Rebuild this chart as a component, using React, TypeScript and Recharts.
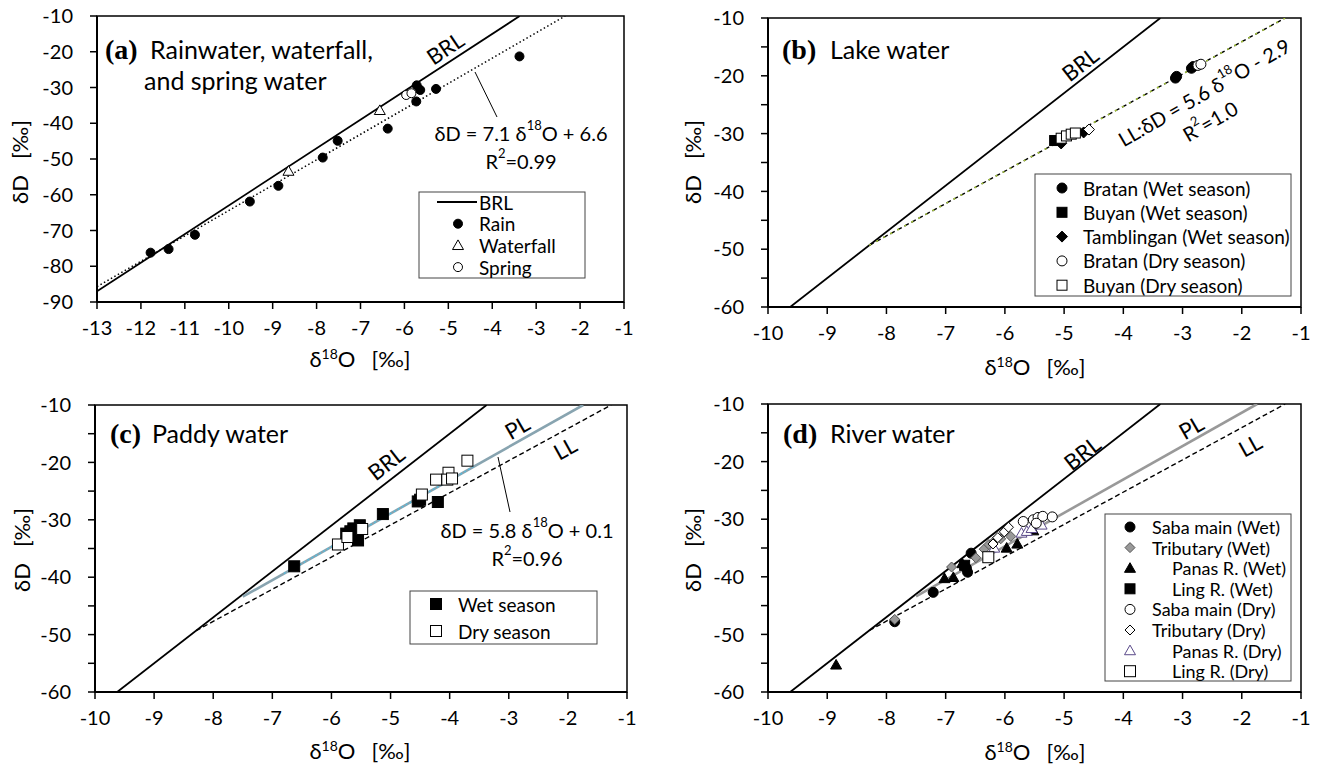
import { ReferenceArea, Scatter, ScatterChart, XAxis, YAxis } from 'recharts';

type Pair = [number, number];
type Mark = 'circle' | 'square' | 'diamond' | 'triangle';

const SANS = 'Lato, "Noto Sans", sans-serif';
const SERIF = '"Liberation Serif", "DejaVu Serif", serif';

// axis ticks
const X_TICKS_A = [-13, -12, -11, -10, -9, -8, -7, -6, -5, -4, -3, -2, -1];
const Y_TICKS_A = [-90, -80, -70, -60, -50, -40, -30, -20, -10];
const X_TICKS = [-10, -9, -8, -7, -6, -5, -4, -3, -2, -1];
const Y_TICKS = [-60, -55, -50, -45, -40, -35, -30, -25, -20, -15, -10];

// (a) rain / waterfall / spring  [d18O, dD]
const RAIN: Pair[] = [
  [-11.78, -76.2], [-11.37, -75.2], [-10.77, -71.2], [-9.52, -61.9], [-8.87, -57.5],
  [-7.86, -49.6], [-7.52, -44.9], [-6.38, -41.5], [-5.72, -29.4], [-5.64, -30.7],
  [-5.73, -33.9], [-5.28, -30.4], [-3.38, -21.3],
];
const WATERFALL: Pair[] = [[-8.64, -53.4], [-6.56, -36.4]];
const SPRING: Pair[] = [[-5.96, -32.1], [-5.84, -31.6]];

// (b) lakes
const BRATAN_WET: Pair[] = [[-3.12, -20.4], [-3.1, -20.1], [-2.85, -18.7], [-2.82, -18.4]];
const BUYAN_WET: Pair[] = [[-5.16, -31.2]];
const TAMB_WET: Pair[] = [[-5.05, -31.7], [-4.67, -29.8]];
const BRATAN_DRY: Pair[] = [[-2.74, -18.2], [-2.69, -18.0]];
const BUYAN_DRY: Pair[] = [[-5.05, -30.8], [-4.96, -30.4], [-4.88, -30.1], [-4.81, -29.9]];
const TAMB_DRY: Pair[] = [[-4.58, -29.3]];

// (c) paddy
const PADDY_WET: Pair[] = [
  [-6.63, -38.1], [-5.75, -32.4], [-5.68, -32.0], [-5.63, -31.5], [-5.52, -30.95],
  [-5.55, -33.6], [-5.13, -29.0], [-4.54, -26.8], [-4.5, -26.5], [-4.2, -26.9],
];
const PADDY_DRY: Pair[] = [
  [-5.89, -34.3], [-5.73, -33.0], [-5.48, -31.6], [-4.47, -25.6], [-4.23, -23.0],
  [-4.02, -21.8], [-4.04, -23.0], [-3.96, -22.8], [-3.7, -19.7],
];

// (d) rivers
const SABA_WET: Pair[] = [[-7.21, -42.7], [-7.86, -47.8], [-6.57, -35.9], [-6.65, -38.5], [-6.63, -39.2]];
const TRIB_WET: Pair[] = [
  [-7.86, -47.4], [-6.9, -38.3], [-6.49, -36.7], [-6.35, -35.2], [-6.27, -34.4],
  [-6.18, -33.8], [-6.07, -33.4], [-5.9, -33.0],
];
const PANAS_WET: Pair[] = [
  [-8.85, -55.3], [-7.02, -40.3], [-6.87, -40.1], [-6.72, -37.7], [-5.97, -35.0],
  [-5.79, -34.3], [-5.52, -32.0],
];
const LING_WET: Pair[] = [[-6.68, -38.0]];
const SABA_DRY: Pair[] = [[-5.69, -30.4], [-5.52, -30.1], [-5.44, -29.7], [-5.36, -29.5], [-5.2, -29.6], [-5.47, -30.7]];
const TRIB_DRY: Pair[] = [[-6.2, -34.3], [-6.12, -33.2], [-6.01, -32.2], [-5.94, -31.4]];
const PANAS_DRY: Pair[] = [[-6.18, -35.0], [-5.72, -32.4], [-5.63, -32.1], [-5.55, -31.6], [-5.38, -31.0]];
const LING_DRY: Pair[] = [[-6.28, -36.6]];

// fitted lines: dD = slope * d18O + intercept
const BRL = { slope: 8, intercept: 17 };
const FIT_A = { slope: 7.1, intercept: 6.6 };
const LL = { slope: 5.6, intercept: -2.9 };
const PL = { slope: 5.8, intercept: 0.1 };

type Fit = { slope: number; intercept: number };

// segment of a fit line from xFrom up to where it leaves the top of the plot (dD = -10)
function seg(l: Fit, xFrom: number, xTo?: number) {
  const end = xTo ?? (-10 - l.intercept) / l.slope;
  return [
    { x: xFrom, y: l.slope * xFrom + l.intercept },
    { x: end, y: l.slope * end + l.intercept },
  ];
}

const toPts = (a: Pair[]) => a.map(([x, y]) => ({ x, y }));

function Marker({ cx, cy, mark, fill, stroke, size }: { cx: number; cy: number; mark: Mark; fill: string; stroke: string; size: number }) {
  const r = size / 2;
  if (mark === 'circle') return <circle cx={cx} cy={cy} r={r} fill={fill} stroke={stroke} strokeWidth={1} />;
  if (mark === 'square') return <rect x={cx - r} y={cy - r} width={size} height={size} fill={fill} stroke={stroke} strokeWidth={1} />;
  if (mark === 'diamond')
    return <polygon points={`${cx},${cy - r} ${cx + r},${cy} ${cx},${cy + r} ${cx - r},${cy}`} fill={fill} stroke={stroke} strokeWidth={1} />;
  return <polygon points={`${cx},${cy - r} ${cx + r},${cy + r * 0.75} ${cx - r},${cy + r * 0.75}`} fill={fill} stroke={stroke} strokeWidth={1} />;
}

interface SeriesDef { data: Pair[]; mark: Mark; fill: string; stroke: string; size: number }
interface LineDef { pts: { x: number; y: number }[]; stroke: string; width: number; dash?: string }

interface PanelProps {
  left: number;
  top: number;
  width: number;
  margin: { top: number; right: number; bottom: number; left: number };
  xDomain: [number, number];
  yDomain: [number, number];
  xTicks: number[];
  yTicks: number[];
  lines: LineDef[];
  series: SeriesDef[];
}

const axisLine = { stroke: '#000', strokeWidth: 2 };
const tickLine = { stroke: '#000', strokeWidth: 1.5 };
const tickStyle = { fill: '#000', fontSize: 20, fontFamily: SANS };

function Panel({ left, top, width, margin, xDomain, yDomain, xTicks, yTicks, lines, series }: PanelProps) {
  return (
    <div style={{ position: 'absolute', left, top }}>
      <ScatterChart width={width} height={385} margin={margin}>
        <XAxis
          type="number"
          dataKey="x"
          domain={xDomain}
          ticks={xTicks}
          interval={0}
          allowDataOverflow
          height={30}
          tickSize={7}
          tickMargin={12}
          axisLine={axisLine}
          tickLine={tickLine}
          tick={tickStyle}
        />
        <YAxis
          type="number"
          dataKey="y"
          domain={yDomain}
          ticks={yTicks}
          interval={0}
          allowDataOverflow
          width={60}
          tickSize={7}
          tickMargin={17}
          axisLine={axisLine}
          tickLine={tickLine}
          tick={tickStyle}
          tickFormatter={(v: number) => (v % 10 === 0 ? String(v) : '')}
        />
        <ReferenceArea
          x1={xDomain[0]}
          x2={xDomain[1]}
          y1={yDomain[0]}
          y2={yDomain[1]}
          fill="none"
          fillOpacity={0}
          stroke="#000"
          strokeWidth={1.5}
          ifOverflow="visible"
        />
        {lines.map((l, i) => (
          <Scatter
            key={'l' + i}
            data={l.pts}
            line={{ stroke: l.stroke, strokeWidth: l.width, strokeDasharray: l.dash }}
            shape={() => <g />}
            legendType="none"
            isAnimationActive={false}
          />
        ))}
        {series.map((s, i) => (
          <Scatter
            key={'s' + i}
            data={toPts(s.data)}
            shape={(p: any) => <Marker cx={p.cx} cy={p.cy} mark={s.mark} fill={s.fill} stroke={s.stroke} size={s.size} />}
            isAnimationActive={false}
          />
        ))}
      </ScatterChart>
    </div>
  );
}

function AxisTitles({ cx, by, lx, ly }: { cx: number; by: number; lx: number; ly: number }) {
  return (
    <>
      <text x={cx} y={by} textAnchor="middle" fontSize={22}>
        δ<tspan dy={-8} fontSize={14}>18</tspan>
        <tspan dy={8}>O</tspan>
        <tspan dx={16}>[‰]</tspan>
      </text>
      <text x={lx} y={ly} textAnchor="middle" dominantBaseline="central" fontSize={22} transform={`rotate(-90 ${lx} ${ly})`}>
        δD<tspan dx={16}>[‰]</tspan>
      </text>
    </>
  );
}

function Rot({ x, y, a, size = 22, children }: { x: number; y: number; a: number; size?: number; children: any }) {
  return (
    <text x={x} y={y} textAnchor="middle" dominantBaseline="central" fontSize={size} transform={`rotate(${a} ${x} ${y})`}>
      {children}
    </text>
  );
}

type LegendRow = { label: string; mark?: SeriesDef; line?: boolean; tx?: number };

function LegendBox({ x, y, w, h, mx, tx, y0, step, rows, size = 19 }: { x: number; y: number; w: number; h: number; mx: number; tx: number; y0: number; step: number; rows: LegendRow[]; size?: number }) {
  return (
    <g>
      <rect x={x} y={y} width={w} height={h} fill="#fff" stroke="#444" strokeWidth={1} />
      {rows.map((r, i) => {
        const cy = y0 + i * step;
        return (
          <g key={i}>
            {r.line && <line x1={mx - 21} x2={mx + 19} y1={cy} y2={cy} stroke="#000" strokeWidth={1.8} />}
            {r.mark && <Marker cx={mx} cy={cy} mark={r.mark.mark} fill={r.mark.fill} stroke={r.mark.stroke} size={r.mark.size} />}
            <text x={r.tx ?? tx} y={cy} dominantBaseline="central" fontSize={size}>{r.label}</text>
          </g>
        );
      })}
    </g>
  );
}

// series styling
const S_RAIN: SeriesDef = { data: RAIN, mark: 'circle', fill: '#000', stroke: '#000', size: 9 };
const S_WATERFALL: SeriesDef = { data: WATERFALL, mark: 'triangle', fill: '#fff', stroke: '#000', size: 11 };
const S_SPRING: SeriesDef = { data: SPRING, mark: 'circle', fill: '#fff', stroke: '#000', size: 9 };

const S_BRATAN_WET: SeriesDef = { data: BRATAN_WET, mark: 'circle', fill: '#000', stroke: '#000', size: 10 };
const S_BUYAN_WET: SeriesDef = { data: BUYAN_WET, mark: 'square', fill: '#000', stroke: '#000', size: 10 };
const S_TAMB_WET: SeriesDef = { data: TAMB_WET, mark: 'diamond', fill: '#000', stroke: '#000', size: 11 };
const S_BRATAN_DRY: SeriesDef = { data: BRATAN_DRY, mark: 'circle', fill: '#fff', stroke: '#000', size: 10 };
const S_BUYAN_DRY: SeriesDef = { data: BUYAN_DRY, mark: 'square', fill: '#fff', stroke: '#000', size: 10 };
const S_TAMB_DRY: SeriesDef = { data: TAMB_DRY, mark: 'diamond', fill: '#fff', stroke: '#000', size: 11 };

const S_PADDY_WET: SeriesDef = { data: PADDY_WET, mark: 'square', fill: '#000', stroke: '#000', size: 11 };
const S_PADDY_DRY: SeriesDef = { data: PADDY_DRY, mark: 'square', fill: '#fff', stroke: '#000', size: 11 };

const S_SABA_WET: SeriesDef = { data: SABA_WET, mark: 'circle', fill: '#000', stroke: '#000', size: 10 };
const S_TRIB_WET: SeriesDef = { data: TRIB_WET, mark: 'diamond', fill: '#999', stroke: '#555', size: 10 };
const S_PANAS_WET: SeriesDef = { data: PANAS_WET, mark: 'triangle', fill: '#000', stroke: '#000', size: 11 };
const S_LING_WET: SeriesDef = { data: LING_WET, mark: 'square', fill: '#000', stroke: '#000', size: 10 };
const S_SABA_DRY: SeriesDef = { data: SABA_DRY, mark: 'circle', fill: '#fff', stroke: '#000', size: 10 };
const S_TRIB_DRY: SeriesDef = { data: TRIB_DRY, mark: 'diamond', fill: '#fff', stroke: '#000', size: 10 };
const S_PANAS_DRY: SeriesDef = { data: PANAS_DRY, mark: 'triangle', fill: '#fff', stroke: '#5a4a8a', size: 11 };
const S_LING_DRY: SeriesDef = { data: LING_DRY, mark: 'square', fill: '#fff', stroke: '#000', size: 11 };

const brlLine = (x0: number): LineDef => ({ pts: seg(BRL, x0), stroke: '#000', width: 1.8 });
const llLine: LineDef = { pts: seg(LL, -8.29), stroke: '#000', width: 1.4, dash: '5 3' };
const FOCUS_C_X: [number, number] = [-6.8, -3.6];

export default function App() {
  return (
    <div style={{ position: 'absolute', left: 0, top: 0, width: 1317, height: 770, background: '#fff', fontFamily: SANS }}>
      <Panel
        left={0}
        top={0}
        width={658}
        margin={{ top: 16, right: 34, bottom: 53, left: 37 }}
        xDomain={[-13, -1]}
        yDomain={[-90, -10]}
        xTicks={X_TICKS_A}
        yTicks={Y_TICKS_A}
        lines={[
          brlLine(-13),
          { pts: seg(FIT_A, -13), stroke: '#000', width: 1.5, dash: '1.5 2.5' },
        ]}
        series={[S_RAIN, S_WATERFALL, S_SPRING]}
      />
      <Panel
        left={658}
        top={0}
        width={659}
        margin={{ top: 18, right: 16, bottom: 48, left: 50 }}
        xDomain={[-10, -1]}
        yDomain={[-60, -10]}
        xTicks={X_TICKS}
        yTicks={Y_TICKS}
        lines={[
          brlLine(-9.625),
          llLine,
          { pts: seg(LL, -8.29), stroke: '#a4c43c', width: 1.6, dash: '2 6' },
        ]}
        series={[S_BUYAN_WET, S_TAMB_WET, S_BUYAN_DRY, S_TAMB_DRY, S_BRATAN_WET, S_BRATAN_DRY]}
      />
      <Panel
        left={0}
        top={385}
        width={658}
        margin={{ top: 20, right: 31, bottom: 48, left: 35 }}
        xDomain={[-10, -1]}
        yDomain={[-60, -10]}
        xTicks={X_TICKS}
        yTicks={Y_TICKS}
        lines={[
          brlLine(-9.625),
          llLine,
          { pts: seg(PL, -7.5), stroke: '#88a4b0', width: 2.6 },
          { pts: seg(PL, FOCUS_C_X[0], FOCUS_C_X[1]), stroke: '#4cc0e6', width: 1.5, dash: '1.5 3' },
        ]}
        series={[S_PADDY_WET, S_PADDY_DRY]}
      />
      <Panel
        left={658}
        top={385}
        width={659}
        margin={{ top: 19, right: 16, bottom: 48, left: 50 }}
        xDomain={[-10, -1]}
        yDomain={[-60, -10]}
        xTicks={X_TICKS}
        yTicks={Y_TICKS}
        lines={[brlLine(-9.625), llLine, { pts: seg(PL, -7.5), stroke: '#999', width: 2.6 }]}
        series={[S_PANAS_WET, S_SABA_WET, S_LING_WET, S_TRIB_WET, S_PANAS_DRY, S_TRIB_DRY, S_LING_DRY, S_SABA_DRY]}
      />

      <svg width={1317} height={770} style={{ position: 'absolute', left: 0, top: 0, pointerEvents: 'none' }} fontFamily={SANS} fill="#000">
        {/* (a) */}
        <text x={105} y={59} fontFamily={SERIF} fontWeight="bold" fontSize={28}>(a)</text>
        <text x={150} y={59} fontSize={25}>Rainwater, waterfall,</text>
        <text x={144} y={90} fontSize={25}>and spring water</text>
        <Rot x={445} y={48} a={-34}>BRL</Rot>
        <text x={521} y={133} textAnchor="middle" dominantBaseline="central" fontSize={20}>
          δD = 7.1 δ<tspan dy={-8} fontSize={13}>18</tspan><tspan dy={8}>O + 6.6</tspan>
        </text>
        <text x={521} y={161} textAnchor="middle" dominantBaseline="central" fontSize={20}>
          R<tspan dy={-8} fontSize={13}>2</tspan><tspan dy={8}>=0.99</tspan>
        </text>
        <line x1={475} y1={72} x2={497} y2={117} stroke="#000" strokeWidth={1} />
        <AxisTitles cx={360} by={367} lx={19} ly={162} />
        <LegendBox
          x={419} y={192} w={166} h={86} mx={458} tx={479} y0={202} step={21.7}
          rows={[
            { label: 'BRL', line: true },
            { label: 'Rain', mark: S_RAIN },
            { label: 'Waterfall', mark: S_WATERFALL },
            { label: 'Spring', mark: S_SPRING },
          ]}
        />

        {/* (b) */}
        <text x={782} y={59} fontFamily={SERIF} fontWeight="bold" fontSize={28}>(b)</text>
        <text x={830} y={59} fontSize={25}>Lake water</text>
        <Rot x={1080} y={64} a={-38}>BRL</Rot>
        <Rot x={1204} y={92} a={-30} size={20}>
          LL:δD = 5.6 δ<tspan dy={-8} fontSize={13}>18</tspan><tspan dy={8}>O - 2.9</tspan>
        </Rot>
        <Rot x={1210} y={121} a={-30} size={20}>
          R<tspan dy={-8} fontSize={13}>2</tspan><tspan dy={8}>=1.0</tspan>
        </Rot>
        <AxisTitles cx={1035} by={375} lx={692} ly={162} />
        <LegendBox
          x={1035} y={174} w={256} h={122} mx={1062} tx={1083} y0={188} step={24.3}
          rows={[
            { label: 'Bratan (Wet season)', mark: S_BRATAN_WET },
            { label: 'Buyan (Wet season)', mark: S_BUYAN_WET },
            { label: 'Tamblingan (Wet season)', mark: S_TAMB_WET },
            { label: 'Bratan (Dry season)', mark: S_BRATAN_DRY },
            { label: 'Buyan (Dry season)', mark: S_BUYAN_DRY },
          ]}
        />

        {/* (c) */}
        <text x={110} y={443} fontFamily={SERIF} fontWeight="bold" fontSize={28}>(c)</text>
        <text x={152} y={443} fontSize={25}>Paddy water</text>
        <Rot x={386} y={463} a={-38}>BRL</Rot>
        <Rot x={517} y={427} a={-30}>PL</Rot>
        <Rot x={565} y={448} a={-29}>LL</Rot>
        <text x={527} y={530} textAnchor="middle" dominantBaseline="central" fontSize={20}>
          δD = 5.8 δ<tspan dy={-8} fontSize={13}>18</tspan><tspan dy={8}>O + 0.1</tspan>
        </text>
        <text x={527} y={558} textAnchor="middle" dominantBaseline="central" fontSize={20}>
          R<tspan dy={-8} fontSize={13}>2</tspan><tspan dy={8}>=0.96</tspan>
        </text>
        <line x1={498} y1={457} x2={510} y2={512} stroke="#000" strokeWidth={1} />
        <AxisTitles cx={360} by={759} lx={21} ly={550} />
        <LegendBox
          x={410} y={591} w={187} h={53} mx={436} tx={458} y0={604} step={27}
          rows={[
            { label: 'Wet season', mark: S_PADDY_WET },
            { label: 'Dry season', mark: S_PADDY_DRY },
          ]}
        />

        {/* (d) */}
        <text x={783} y={443} fontFamily={SERIF} fontWeight="bold" fontSize={28}>(d)</text>
        <text x={830} y={443} fontSize={25}>River water</text>
        <Rot x={1082} y={453} a={-38}>BRL</Rot>
        <Rot x={1191} y={427} a={-30}>PL</Rot>
        <Rot x={1250} y={445} a={-29}>LL</Rot>
        <AxisTitles cx={1035} by={760} lx={692} ly={550} />
        <LegendBox
          x={1105} y={514} w={186} h={167} mx={1130} tx={1152} y0={527} step={20.6} size={18}
          rows={[
            { label: 'Saba main (Wet)', mark: S_SABA_WET },
            { label: 'Tributary (Wet)', mark: S_TRIB_WET },
            { label: 'Panas R. (Wet)', mark: S_PANAS_WET, tx: 1172 },
            { label: 'Ling R. (Wet)', mark: S_LING_WET, tx: 1172 },
            { label: 'Saba main (Dry)', mark: S_SABA_DRY },
            { label: 'Tributary (Dry)', mark: S_TRIB_DRY },
            { label: 'Panas R. (Dry)', mark: S_PANAS_DRY, tx: 1172 },
            { label: 'Ling R. (Dry)', mark: S_LING_DRY, tx: 1172 },
          ]}
        />
      </svg>
    </div>
  );
}
